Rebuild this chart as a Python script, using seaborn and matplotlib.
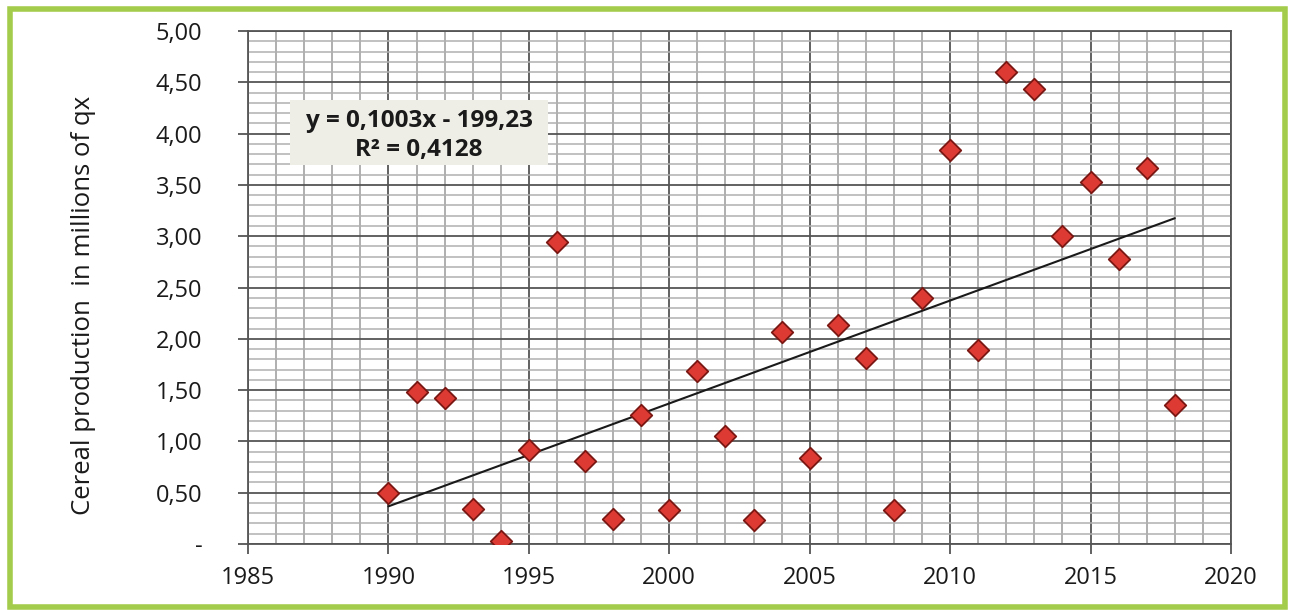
import matplotlib
matplotlib.use("Agg")
import matplotlib.pyplot as plt
from matplotlib.patches import Rectangle
from matplotlib.ticker import MultipleLocator, FixedLocator
import numpy as np
import pandas as pd
import seaborn as sns

# Cereal production per year (millions of quintals)
years = [1990, 1991, 1992, 1993, 1994, 1995, 1996, 1997, 1998, 1999,
         2000, 2001, 2002, 2003, 2004, 2005, 2006, 2007, 2008, 2009,
         2010, 2011, 2012, 2013, 2014, 2015, 2016, 2017, 2018]
production = [0.50, 1.48, 1.42, 0.34, 0.03, 0.92, 2.94, 0.81, 0.24, 1.26,
              0.33, 1.69, 1.05, 0.23, 2.07, 0.84, 2.13, 1.81, 0.33, 2.40,
              3.84, 1.89, 4.60, 4.43, 3.00, 3.53, 2.78, 3.66, 1.35]

# Linear trend reported on the chart
trend_slope = 0.1003
trend_intercept = -199.23
r_squared = "0,4128"

x_ticks = [1985, 1990, 1995, 2000, 2005, 2010, 2015, 2020]
y_ticks = [0.0, 0.5, 1.0, 1.5, 2.0, 2.5, 3.0, 3.5, 4.0, 4.5, 5.0]
y_tick_labels = ["-", "0,50", "1,00", "1,50", "2,00", "2,50",
                 "3,00", "3,50", "4,00", "4,50", "5,00"]

df = pd.DataFrame({"year": years, "production": production})

sns.set_theme(style="white")
plt.rcParams["font.family"] = ["Open Sans", "DejaVu Sans"]

W, H = 1293, 610
fig = plt.figure(figsize=(W / 100, H / 100), dpi=100)
fig.patch.set_facecolor("white")

x0, x1, y0, y1 = 248, 1231, 31, 544
ax = fig.add_axes([x0 / W, 1 - y1 / H, (x1 - x0) / W, (y1 - y0) / H])
ax.set_facecolor("white")

# Grid: minor lines every year / 0.1, major lines every 5 years / 0.5
ax.set_xlim(1985, 2020)
ax.set_ylim(0, 5)
ax.xaxis.set_major_locator(FixedLocator(x_ticks))
ax.xaxis.set_minor_locator(MultipleLocator(1))
ax.yaxis.set_major_locator(FixedLocator(y_ticks))
ax.yaxis.set_minor_locator(MultipleLocator(0.1))
ax.grid(which="minor", axis="x", color="#9a9a9a", linewidth=1.1)
ax.grid(which="minor", axis="y", color="#b0b0b0", linewidth=1.1)
ax.grid(which="major", axis="both", color="#555555", linewidth=1.3)
ax.set_axisbelow(True)

for side in ["left", "right", "top", "bottom"]:
    ax.spines[side].set_visible(True)
    ax.spines[side].set_color("#555555")
    ax.spines[side].set_linewidth(1.3)

ax.set_xticklabels([str(t) for t in x_ticks])
ax.set_yticklabels(y_tick_labels)
ax.tick_params(axis="both", which="major", direction="out", length=7,
               width=1.3, color="#555555", labelsize=17, labelcolor="#1a1a1a")
ax.tick_params(axis="y", which="major", pad=26)
ax.tick_params(axis="x", which="major", pad=9)
ax.tick_params(which="minor", length=0)
ax.tick_params(axis="x", bottom=True)
ax.tick_params(axis="y", left=True)

# Trend line across the observed years
tx = np.array([years[0], years[-1]], dtype=float)
ax.plot(tx, trend_slope * tx + trend_intercept, color="#1a1a1a",
        linewidth=1.5, zorder=3)

sns.scatterplot(data=df, x="year", y="production", ax=ax, marker="D",
                s=120, color="#dd3a34", edgecolor="#7a1712", linewidth=1.3,
                zorder=4, legend=False)
ax.set_xlabel("")
ax.set_ylabel("")

fig.text(84 / W, 1 - 305 / H, "Cereal production  in millions of qx",
         rotation=90, ha="center", va="center", fontsize=18.5, color="#1a1a1a")

# Equation box
eq_x, eq_y, eq_w, eq_h = 290, 100, 258, 65
fig.patches.append(Rectangle((eq_x / W, 1 - (eq_y + eq_h) / H), eq_w / W, eq_h / H,
                             transform=fig.transFigure, facecolor="#efeee6",
                             edgecolor="none", zorder=5))
fig.text((eq_x + eq_w / 2) / W, 1 - 121 / H,
         "y = 0,1003x - 199,23", ha="center", va="center",
         fontsize=17.5, fontweight="bold", color="#1a1a1a", zorder=6)
fig.text((eq_x + eq_w / 2) / W, 1 - 150 / H,
         "R² = " + r_squared, ha="center", va="center",
         fontsize=17.5, fontweight="bold", color="#1a1a1a", zorder=6)

# Outer green frame
fig.patches.append(Rectangle((10 / W, 1 - 607 / H), 1275 / W, 598 / H,
                             transform=fig.transFigure, facecolor="none",
                             edgecolor="#a4cc4c", linewidth=4, zorder=10))

fig.savefig("out.png", dpi=100, facecolor="white")
